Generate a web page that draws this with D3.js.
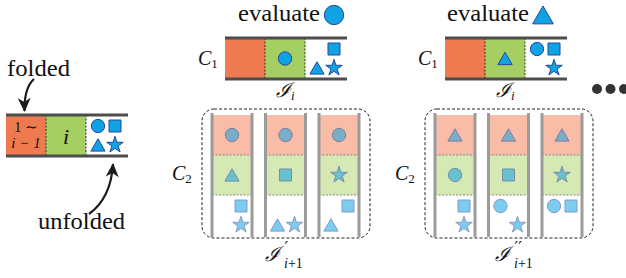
<!DOCTYPE html>
<html>
<head>
<meta charset="utf-8">
<script src="https://cdn.jsdelivr.net/npm/d3@7"></script>
<style>
html, body { margin: 0; padding: 0; background: #fff; }
svg { display: block; }
</style>
</head>
<body>
<script>
// cells of one candidate: folded prefix, current position, unfolded rest
const cellNames = ["folded", "current", "unfolded"];
const rootPool = ["circle", "square", "triangle", "star"];
const foldedLabel = ["1 ∼", "i − 1"];
const currentLabel = "i";
const evaluated = ["circle", "triangle"];
const parentPools = [["square", "triangle", "star"], ["circle", "square", "star"]];
// children: [folded shape, current shape, unfolded shapes]
const childNodes = [
    [["circle", "triangle", ["square", "star"]],
     ["circle", "square", ["triangle", "star"]],
     ["circle", "star", ["square", "triangle"]]],
    [["triangle", "circle", ["square", "star"]],
     ["triangle", "square", ["circle", "star"]],
     ["triangle", "star", ["circle", "square"]]]
];
const parentLabels = ["1", "1"];
const childLabels = ["2", "2"];
const childPrimes = ["′", "′′"];

const width = 626, height = 278;
const serif = '"Liberation Serif", "Times New Roman", serif';
const blue = "#10a3e3", blueDark = "#24489b";
const colors = { folded: "#f07a50", current: "#a5cf62" };
const fadedColors = { folded: "#f9bca7", current: "#d6e8b4" };

const symbols = { circle: d3.symbolCircle, square: d3.symbolSquare, triangle: d3.symbolTriangle, star: d3.symbolStar };
const areas = { circle: 140, square: 144, triangle: 88, star: 85 };
const slots = { circle: ["L", "T"], square: ["R", "T"], triangle: ["L", "B"], star: ["R", "B"] };
const slotX = d3.scalePoint().domain(["L", "R"]).range([12, 29]);
const slotY = d3.scalePoint().domain(["T", "B"]).range([11, 30]);

const svg = d3.select("body").append("svg")
    .attr("width", width)
    .attr("height", height)
    .style("font-family", serif);

const drawShape = (g, type, x, y, k = 1) => {
    g.append("path")
        .attr("d", d3.symbol(symbols[type], areas[type] * k * k)())
        .attr("transform", `translate(${x},${y + (type === "triangle" ? 2 * k : 0)})`)
        .attr("fill", blue)
        .attr("stroke", blueDark)
        .attr("stroke-width", 1);
};

const drawPool = (g, pool, x0, y0) => {
    pool.forEach(s => drawShape(g, s, x0 + slotX(slots[s][0]), y0 + slotY(slots[s][1])));
};

const drawBar = (x0, y0, current, pool) => {
    const g = svg.append("g");
    const x = d3.scaleBand().domain(cellNames).range([x0, x0 + 120]);
    const h = 41;
    ["folded", "current"].forEach(c => {
        g.append("rect")
            .attr("x", x(c)).attr("y", y0)
            .attr("width", x.bandwidth()).attr("height", h)
            .attr("fill", colors[c]);
    });
    ["current", "unfolded"].forEach(c => {
        g.append("line")
            .attr("x1", x(c)).attr("x2", x(c))
            .attr("y1", y0).attr("y2", y0 + h)
            .attr("stroke", "#333").attr("stroke-width", 1)
            .attr("stroke-dasharray", "2,1.5");
    });
    [y0, y0 + h].forEach(y => {
        g.append("line")
            .attr("x1", x0).attr("x2", x0 + 122)
            .attr("y1", y).attr("y2", y)
            .attr("stroke", "#4d4d4d").attr("stroke-width", 3);
    });
    if (current) drawShape(g, current, x("current") + x.bandwidth() / 2, y0 + h / 2);
    drawPool(g, pool, x("unfolded"), y0);
    return x;
};

const drawPanel = (x0, nodes) => {
    const g = svg.append("g");
    const col = d3.scaleBand().domain(d3.range(nodes.length)).range([x0, x0 + 147]).paddingInner(0.252);
    const row = d3.scaleBand().domain(cellNames).range([115, 235]);
    g.append("rect")
        .attr("x", x0 - 10).attr("y", 109)
        .attr("width", 168).attr("height", 129)
        .attr("rx", 12)
        .attr("fill", "none")
        .attr("stroke", "#222").attr("stroke-width", 1)
        .attr("stroke-dasharray", "3,2");
    nodes.forEach((node, i) => {
        const cx = col(i);
        const bw = col.bandwidth();
        ["folded", "current"].forEach(c => {
            g.append("rect")
                .attr("x", cx).attr("y", row(c))
                .attr("width", bw).attr("height", row.bandwidth())
                .attr("fill", fadedColors[c]);
        });
        ["current", "unfolded"].forEach(c => {
            g.append("line")
                .attr("x1", cx).attr("x2", cx + bw)
                .attr("y1", row(c)).attr("y2", row(c))
                .attr("stroke", "#888").attr("stroke-width", 1)
                .attr("stroke-dasharray", "2,1.5");
        });
        [cx, cx + bw].forEach(lx => {
            g.append("line")
                .attr("x1", lx).attr("x2", lx)
                .attr("y1", 113).attr("y2", 237)
                .attr("stroke", "#9b9b9b").attr("stroke-width", 3);
        });
        const sg = g.append("g").attr("opacity", 0.55);
        drawShape(sg, node[0], cx + bw / 2, row("folded") + row.bandwidth() / 2);
        drawShape(sg, node[1], cx + bw / 2, row("current") + row.bandwidth() / 2);
        drawPool(sg, node[2], cx, row("unfolded"));
    });
};

// arrow heads
svg.append("defs").append("marker")
    .attr("id", "head")
    .attr("markerUnits", "userSpaceOnUse")
    .attr("viewBox", "-14 -7 16 14")
    .attr("refX", 0).attr("refY", 0)
    .attr("markerWidth", 16).attr("markerHeight", 14)
    .attr("orient", "auto")
    .append("path")
    .attr("d", "M1,0 L-13,-6.5 L-9,0 L-13,6.5 Z")
    .attr("fill", "#1a1a1a");

// left: generic candidate
const leftX = drawBar(6, 115, null, rootPool);
const lt = svg.append("text")
    .attr("text-anchor", "middle")
    .attr("font-size", 15)
    .attr("fill", "#111");
lt.append("tspan").attr("x", leftX("folded") + 20).attr("y", 132).text(foldedLabel[0]);
lt.append("tspan").attr("x", leftX("folded") + 20).attr("y", 148).attr("font-style", "italic").text(foldedLabel[1]);
svg.append("text")
    .attr("x", leftX("current") + 20).attr("y", 144)
    .attr("text-anchor", "middle")
    .attr("font-size", 22)
    .attr("font-style", "italic")
    .attr("fill", "#111")
    .text(currentLabel);

svg.append("text")
    .attr("x", 7).attr("y", 76)
    .attr("font-size", 23)
    .attr("textLength", 63).attr("lengthAdjust", "spacingAndGlyphs")
    .attr("fill", "#111")
    .text("folded");
svg.append("text")
    .attr("x", 38).attr("y", 229)
    .attr("font-size", 23)
    .attr("textLength", 87).attr("lengthAdjust", "spacingAndGlyphs")
    .attr("fill", "#111")
    .text("unfolded");

svg.append("path")
    .attr("d", "M34,79 Q24,88 24.5,111")
    .attr("fill", "none").attr("stroke", "#1a1a1a").attr("stroke-width", 2.2)
    .attr("marker-end", "url(#head)");
svg.append("path")
    .attr("d", "M89,214 Q111,198 113,164")
    .attr("fill", "none").attr("stroke", "#1a1a1a").attr("stroke-width", 2.2)
    .attr("marker-end", "url(#head)");

// evaluated parents and their children
const barX = [225, 445];
const panelX = [212, 435];
evaluated.forEach((s, k) => {
    const x0 = barX[k];
    const ex = 238 + k * 209;
    svg.append("text")
        .attr("x", ex).attr("y", 20.5)
        .attr("font-size", 23.5)
        .attr("textLength", 82).attr("lengthAdjust", "spacingAndGlyphs")
        .attr("fill", "#111")
        .text("evaluate");
    drawShape(svg, s, ex + 96, 15, 1.45);

    drawBar(x0, 38, s, parentPools[k]);

    const c1 = svg.append("text").attr("x", x0 - 27).attr("y", 65).attr("font-size", 20).attr("fill", "#111");
    c1.append("tspan").attr("font-style", "italic").text("C");
    c1.append("tspan").attr("font-size", 13).attr("dy", 3).text(parentLabels[k]);

    const ii = svg.append("text").attr("x", x0 + 51).attr("y", 97).attr("font-size", 20).attr("fill", "#111");
    ii.append("tspan").attr("font-style", "italic").text("ℐ");
    ii.append("tspan").attr("font-size", 13).attr("font-style", "italic").attr("dy", 3).text("i");

    drawPanel(panelX[k], childNodes[k]);

    const c2 = svg.append("text").attr("x", panelX[k] - 40).attr("y", 180).attr("font-size", 20).attr("fill", "#111");
    c2.append("tspan").attr("font-style", "italic").text("C");
    c2.append("tspan").attr("font-size", 13).attr("dy", 3).text(childLabels[k]);

    const lx = panelX[k] + 53 + k * 7;
    svg.append("text").attr("x", lx).attr("y", 261)
        .attr("font-style", "italic").attr("font-size", 20).attr("fill", "#111").text("ℐ");
    svg.append("text").attr("x", lx + 19.5).attr("y", 253)
        .style("font-family", '"DejaVu Sans", sans-serif')
        .attr("font-size", 16).attr("fill", "#111").text(childPrimes[k]);
    const sub = svg.append("text").attr("x", lx + 19).attr("y", 268).attr("font-size", 14).attr("fill", "#111");
    sub.append("tspan").attr("font-style", "italic").text("i");
    sub.append("tspan").text("+1");
});

// ellipsis
svg.selectAll(".dot")
    .data(d3.range(3))
    .enter()
    .append("circle")
    .attr("class", "dot")
    .attr("cx", d => 597 + d * 13.5)
    .attr("cy", 89)
    .attr("r", 5)
    .attr("fill", "#333");
</script>
</body>
</html>
